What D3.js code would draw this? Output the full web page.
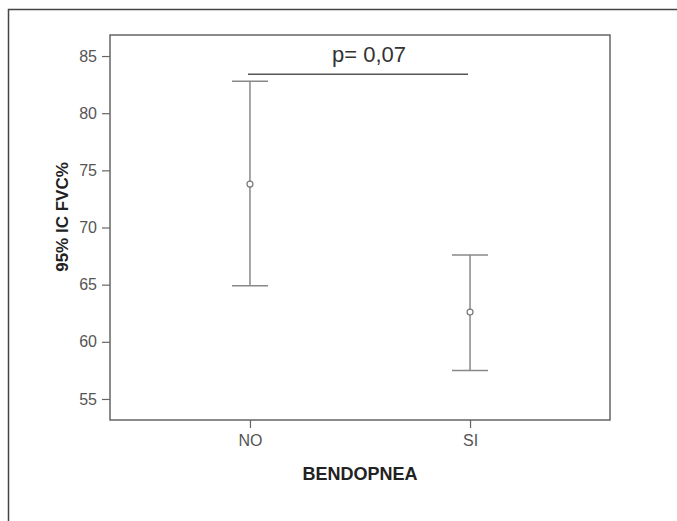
<!DOCTYPE html>
<html>
<head>
<meta charset="utf-8">
<script src="https://cdn.jsdelivr.net/npm/d3@7"></script>
<style>
body { margin: 0; background: #fff; }
text { font-family: Arial, "Liberation Sans", sans-serif; }
</style>
</head>
<body>
<svg width="677" height="521"></svg>
<script>
// data
var groups = ["NO", "SI"];
var means = [73.8, 62.6];
var lower = [64.9, 57.5];
var upper = [82.8, 67.6];
var yTicks = [55, 60, 65, 70, 75, 80, 85];
var pLabel = "p= 0,07";
var pLevel = 83.4;

var width = 677, height = 521;
var plotLeft = 110, plotRight = 610, plotTop = 35, plotBottom = 420;

var svg = d3.select("svg");

// outer frame (top and left edges)
svg.append("path")
	.attr("d", `M8.5,${height} V9.5 H${width}`)
	.attr("fill", "none")
	.attr("stroke", "#444")
	.attr("stroke-width", 1.5);

var xScale = d3.scalePoint()
	.domain(groups)
	.range([plotLeft, plotRight])
	.padding(0.636);

var yScale = d3.scaleLinear()
	.domain([53.16, 86.84])
	.range([plotBottom, plotTop]);

// plot box
svg.append("rect")
	.attr("x", plotLeft)
	.attr("y", plotTop)
	.attr("width", plotRight - plotLeft)
	.attr("height", plotBottom - plotTop)
	.attr("fill", "none")
	.attr("stroke", "#666")
	.attr("stroke-width", 1.5);

var yAxis = d3.axisLeft(yScale)
	.tickValues(yTicks)
	.tickSize(8)
	.tickSizeOuter(0);
var xAxis = d3.axisBottom(xScale)
	.tickSize(8)
	.tickSizeOuter(0);

var gy = svg.append("g")
	.attr("transform", `translate(${plotLeft}, 0)`)
	.call(yAxis);
var gx = svg.append("g")
	.attr("transform", `translate(0, ${plotBottom})`)
	.call(xAxis);

[gx, gy].forEach(g => {
	g.select(".domain").remove();
	g.selectAll(".tick line").attr("stroke", "#666").attr("stroke-width", 1.2);
	g.selectAll(".tick text")
		.attr("fill", "#555")
		.style("font-size", "16px");
});
gy.selectAll(".tick text").attr("x", -13);
gx.selectAll(".tick text").attr("y", 15);

// axis titles
svg.append("text")
	.attr("transform", "rotate(-90)")
	.attr("x", -217)
	.attr("y", 68)
	.style("text-anchor", "middle")
	.style("font-size", "17px")
	.style("font-weight", "bold")
	.attr("fill", "#222")
	.text("95% IC FVC%");

svg.append("text")
	.attr("x", 360)
	.attr("y", 480)
	.style("text-anchor", "middle")
	.style("font-size", "18px")
	.style("font-weight", "bold")
	.attr("fill", "#222")
	.text("BENDOPNEA");

// error bars
var capW = 18;
var bars = svg.selectAll("g.bar")
	.data(groups)
	.enter()
	.append("g")
	.attr("class", "bar")
	.attr("stroke", "#888")
	.attr("stroke-width", 1.5);

bars.append("line")
	.attr("x1", d => xScale(d))
	.attr("x2", d => xScale(d))
	.attr("y1", (d, i) => yScale(upper[i]))
	.attr("y2", (d, i) => yScale(lower[i]));
bars.append("line")
	.attr("x1", d => xScale(d) - capW)
	.attr("x2", d => xScale(d) + capW)
	.attr("y1", (d, i) => yScale(upper[i]))
	.attr("y2", (d, i) => yScale(upper[i]));
bars.append("line")
	.attr("x1", d => xScale(d) - capW)
	.attr("x2", d => xScale(d) + capW)
	.attr("y1", (d, i) => yScale(lower[i]))
	.attr("y2", (d, i) => yScale(lower[i]));
bars.append("circle")
	.attr("cx", d => xScale(d))
	.attr("cy", (d, i) => yScale(means[i]))
	.attr("r", 3)
	.attr("fill", "#fff")
	.attr("stroke", "#777")
	.attr("stroke-width", 1.2);

// significance line
svg.append("line")
	.attr("x1", xScale(groups[0]) - 2)
	.attr("x2", xScale(groups[1]) - 2)
	.attr("y1", yScale(pLevel))
	.attr("y2", yScale(pLevel))
	.attr("stroke", "#555")
	.attr("stroke-width", 1.5);

svg.append("text")
	.attr("x", 369)
	.attr("y", 62)
	.style("text-anchor", "middle")
	.style("font-size", "22px")
	.attr("fill", "#333")
	.text(pLabel);
</script>
</body>
</html>
